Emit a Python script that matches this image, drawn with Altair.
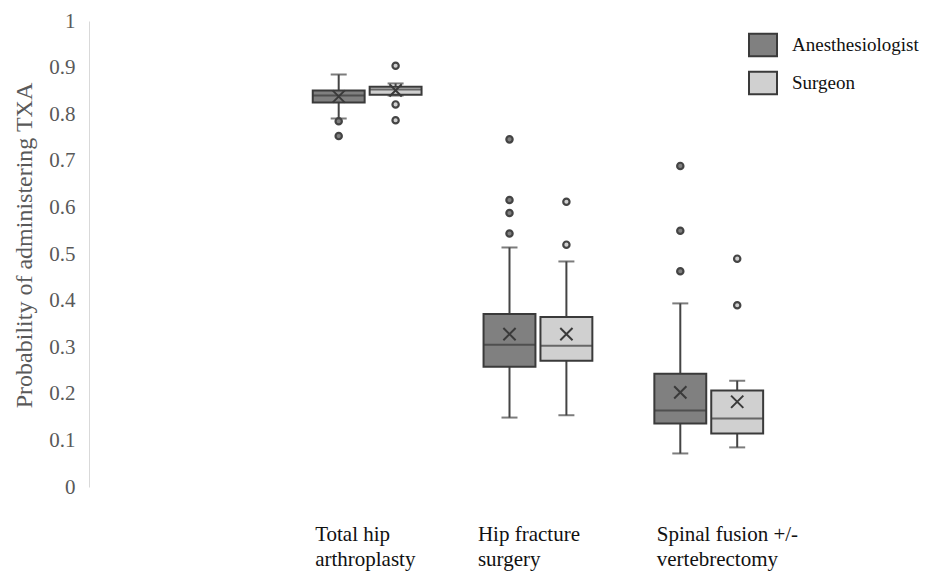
import altair as alt
import pandas as pd

categories = ["Total hip|arthroplasty", "Hip fracture|surgery", "Spinal fusion +/-|vertebrectomy"]
roles = ["Anesthesiologist", "Surgeon"]

# per (category, role): whisker low, Q1, median, Q3, whisker high, mean
box_cat = [categories[0], categories[0], categories[1], categories[1], categories[2], categories[2]]
box_role = ["Anesthesiologist", "Surgeon"] * 3
w_lo = [0.791, 0.840, 0.149, 0.154, 0.072, 0.085]
q1 = [0.825, 0.842, 0.258, 0.271, 0.136, 0.115]
med = [0.840, 0.853, 0.305, 0.303, 0.164, 0.147]
q3 = [0.851, 0.859, 0.371, 0.365, 0.243, 0.207]
w_hi = [0.885, 0.866, 0.514, 0.484, 0.394, 0.228]
mean = [0.838, 0.851, 0.328, 0.328, 0.203, 0.183]

out_cat = [categories[0]] * 5 + [categories[1]] * 6 + [categories[2]] * 5
out_role = (["Anesthesiologist"] * 2 + ["Surgeon"] * 3
            + ["Anesthesiologist"] * 4 + ["Surgeon"] * 2
            + ["Anesthesiologist"] * 3 + ["Surgeon"] * 2)
out_val = [0.785, 0.753, 0.904, 0.821, 0.787,
           0.746, 0.616, 0.588, 0.544, 0.612, 0.520,
           0.689, 0.550, 0.463, 0.490, 0.390]

box = pd.DataFrame({"category": box_cat, "role": box_role, "lo": w_lo, "q1": q1,
                    "med": med, "q3": q3, "hi": w_hi, "mean": mean})
outl = pd.DataFrame({"category": out_cat, "role": out_role, "value": out_val})

SERIF = "Liberation Serif"
fills = ["#808080", "#d0d0d0"]
DARK = "#3a3a3a"

x_enc = alt.X(
    "category:N", sort=categories, title=None,
    scale=alt.Scale(paddingInner=0.363, paddingOuter=1.0, align=0.655),
    axis=alt.Axis(
        domain=False, ticks=False, labelAngle=0, labelAlign="left",
        labelOffset={"condition": {"test": "datum.value == 'Hip fracture|surgery'", "value": -60},
                     "value": -52},
        labelPadding=53, labelBaseline="alphabetic", labelFontSize=21,
        labelColor="#111111", labelLineHeight=25,
        labelExpr="split(datum.label, '|')",
    ),
)
xoff = alt.XOffset("role:N", sort=roles, scale=alt.Scale(paddingInner=0.088, paddingOuter=0))
y_scale = alt.Scale(domain=[0, 1], nice=False, zero=True)
y_axis = alt.Axis(
    title="Probability of administering TXA", values=[0, 0.1, 0.2, 0.3, 0.4, 0.5, 0.6, 0.7, 0.8, 0.9, 1],
    labelExpr="datum.value == 0 ? '0' : datum.value == 1 ? '1' : format(datum.value, '.1f')",
    grid=False, ticks=False, domainColor="#d9d9d9", domainWidth=1,
    labelFontSize=21, labelColor="#595959", labelPadding=14,
    titleFontSize=24, titleFontWeight="normal", titleColor="#595959",
    titleAngle=270, titleX=-65, titleY=224, titleAlign="center", titleBaseline="middle",
)
color = alt.Color("role:N", scale=alt.Scale(domain=roles, range=fills), legend=None)

base = alt.Chart(box).encode(x=x_enc, xOffset=xoff)

whisker = base.mark_rule(color="#444444", strokeWidth=2).encode(
    y=alt.Y("lo:Q", scale=y_scale, axis=y_axis), y2="hi:Q")

boxes = base.mark_bar(stroke=DARK, strokeWidth=2).encode(
    y="q1:Q", y2="q3:Q",
    color=alt.Color("role:N", scale=alt.Scale(domain=roles, range=fills), title=None,
                    legend=alt.Legend(
                        orient="none", legendX=659, legendY=9, padding=0,
                        symbolType="M-1,-0.8H1V0.8H-1Z", symbolSize=784,
                        symbolStrokeColor=DARK, symbolStrokeWidth=2,
                        labelFontSize=19, labelColor="#111111",
                        labelOffset=14, rowPadding=6, labelLimit=300,
                    )),
)

median = base.mark_tick(color=DARK, thickness=2, size=52).encode(y="med:Q")
cap_lo = base.mark_tick(color="#444444", thickness=2, size=16).encode(y="lo:Q")
cap_hi = base.mark_tick(color="#444444", thickness=2, size=16).encode(y="hi:Q")
mean_mark = base.mark_point(shape="M-1,-1L1,1M-1,1L1,-1", size=150, filled=False,
                            color=DARK, strokeWidth=2, opacity=1).encode(y="mean:Q")

outliers = alt.Chart(outl).mark_point(filled=True, size=40, stroke="#444444",
                                      strokeWidth=2.2, opacity=1).encode(
    x=x_enc, xOffset=xoff, y="value:Q", color=color)

chart = alt.layer(whisker, boxes, median, cap_lo, cap_hi, mean_mark, outliers).properties(
    width=792, height=466,
    background="white",
    autosize=alt.AutoSizeParams(type="none"),
    padding={"left": 81, "top": 13, "right": 40, "bottom": 84},
).configure(font=SERIF).configure_view(stroke=None).configure_axis(
    labelFont=SERIF, titleFont=SERIF
).configure_legend(labelFont=SERIF, titleFont=SERIF)

chart.save("out.html", embed_options={"renderer": "svg", "actions": False})
